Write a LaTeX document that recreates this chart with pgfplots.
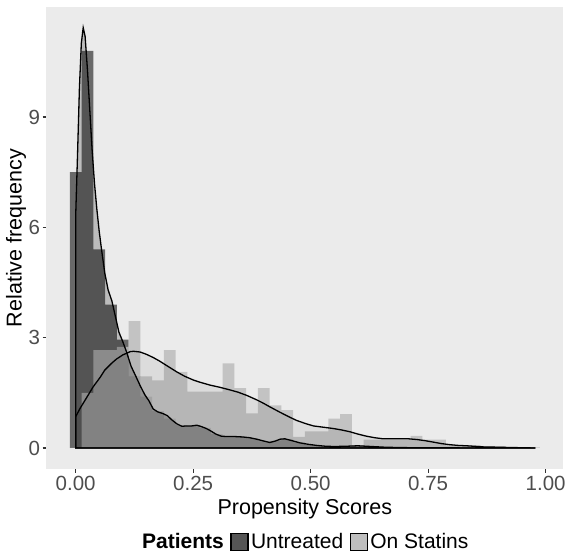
\documentclass[border=0pt]{standalone}
\usepackage{fontspec}
\setmainfont{Liberation Sans}
\usepackage{pgfplots}
\pgfplotsset{compat=1.18}

\definecolor{panelbg}{HTML}{EBEBEB}
\definecolor{ticktext}{HTML}{4D4D4D}
\definecolor{tickmark}{HTML}{333333}
\definecolor{untreatedfill}{HTML}{333333}
\definecolor{statinfill}{HTML}{BCBCBC}
\definecolor{keydark}{HTML}{555555}
\definecolor{keylight}{HTML}{BEBEBE}

% Histogram heights (density scale), bins of width 0.025; x = left edge
\pgfplotstableread{
x       y
-0.0125 7.50
0.0125  10.80
0.0375  5.40
0.0625  3.90
0.0875  2.95
0.1125  1.95
0.1375  1.40
0.1625  1.00
0.1875  0.80
0.2125  0.62
0.2375  0.60
0.2625  0.55
0.2875  0.38
0.3125  0.30
0.3375  0.30
0.3625  0.26
0.3875  0.18
0.4125  0.20
0.4375  0.25
0.4625  0.15
0.4875  0.08
0.5125  0.05
0.5375  0.04
0.5625  0.05
0.5875  0.05
0.6125  0.03
0.6375  0.02
0.6625  0.01
0.6875  0.01
0.7125  0.01
}\untreatedhist

\pgfplotstableread{
x       y
-0.0125 0.00
0.0125  1.50
0.0375  2.66
0.0625  2.66
0.0875  2.75
0.1125  3.45
0.1375  1.95
0.1625  1.84
0.1875  2.66
0.2125  2.07
0.2375  1.53
0.2625  1.53
0.2875  1.53
0.3125  2.30
0.3375  1.63
0.3625  0.94
0.3875  1.63
0.4125  1.16
0.4375  1.03
0.4625  0.30
0.4875  0.45
0.5125  0.45
0.5375  0.80
0.5625  0.92
0.5875  0.08
0.6125  0.23
0.6375  0.23
0.6625  0.23
0.6875  0.23
0.7125  0.33
0.7375  0.23
0.7625  0.23
0.7875  0.07
0.8125  0.07
0.8375  0.07
0.8625  0.05
0.8875  0.05
0.9125  0.00
0.9375  0.02
0.9625  0.02
0.9875  0.02
}\statinhist

% Kernel density estimates
\pgfplotstableread{
x     y
0.000 6.30
0.004 8.00
0.008 9.80
0.012 11.00
0.016 11.43
0.020 11.20
0.025 10.30
0.030 9.20
0.035 8.10
0.040 7.20
0.045 6.50
0.050 5.90
0.055 5.40
0.062 4.75
0.069 4.30
0.077 4.00
0.085 3.55
0.092 3.15
0.100 2.90
0.108 2.62
0.118 2.22
0.128 1.95
0.137 1.70
0.147 1.45
0.156 1.28
0.165 1.06
0.175 0.98
0.185 0.94
0.195 0.88
0.205 0.76
0.215 0.66
0.226 0.59
0.236 0.60
0.247 0.60
0.258 0.62
0.268 0.58
0.278 0.53
0.288 0.46
0.298 0.38
0.310 0.32
0.325 0.31
0.340 0.31
0.355 0.30
0.370 0.28
0.385 0.24
0.400 0.19
0.413 0.15
0.425 0.19
0.435 0.24
0.445 0.25
0.460 0.20
0.477 0.14
0.495 0.10
0.513 0.07
0.530 0.05
0.550 0.04
0.580 0.05
0.600 0.06
0.630 0.04
0.660 0.02
0.700 0.01
0.750 0.005
0.800 0.003
0.900 0.001
0.978 0.000
}\untreateddens

\pgfplotstableread{
x     y
0.000 0.85
0.009 1.07
0.020 1.30
0.037 1.66
0.052 1.92
0.062 2.12
0.077 2.31
0.087 2.42
0.100 2.53
0.116 2.62
0.123 2.63
0.137 2.61
0.150 2.55
0.165 2.46
0.179 2.36
0.195 2.23
0.215 2.07
0.232 1.95
0.250 1.85
0.264 1.79
0.286 1.71
0.307 1.65
0.328 1.58
0.345 1.52
0.364 1.43
0.385 1.31
0.399 1.22
0.413 1.12
0.435 0.97
0.455 0.84
0.470 0.75
0.490 0.66
0.506 0.60
0.530 0.56
0.548 0.53
0.566 0.49
0.584 0.44
0.600 0.38
0.619 0.32
0.636 0.28
0.654 0.25
0.672 0.25
0.690 0.25
0.708 0.25
0.726 0.23
0.743 0.20
0.761 0.16
0.778 0.12
0.796 0.09
0.814 0.07
0.832 0.06
0.850 0.045
0.867 0.03
0.885 0.025
0.903 0.02
0.920 0.015
0.938 0.01
0.958 0.005
0.978 0.000
}\statindens

\begin{document}
\begin{tikzpicture}[x=1bp,y=1bp]
\path[use as bounding box] (0,0) rectangle (569,552);
\begin{axis}[
  at={(46.3bp,83bp)}, anchor=south west,
  scale only axis, width=517bp, height=462.3bp,
  xmin=-0.0625, xmax=1.0375, ymin=-0.571, ymax=12.0,
  axis background/.style={fill=panelbg},
  axis line style={draw=none},
  xtick={0,0.25,0.5,0.75,1}, ytick={0,3,6,9},
  xticklabels={0.00,0.25,0.50,0.75,1.00},
  xtick pos=left, ytick pos=left,
  tick align=outside, major tick length=3.7bp,
  every tick/.style={tickmark, line width=1.1bp},
  /pgf/number format/assume math mode=true,
  xticklabel style={font=\fontsize{20.5bp}{24bp}\selectfont, text=ticktext},
  yticklabel style={font=\fontsize{20.5bp}{24bp}\selectfont, text=ticktext, inner xsep=2.5bp},
  legend style={at={(0.5,-0.158)}, anchor=center, draw=none, fill=none,
    font=\fontsize{21bp}{24bp}\selectfont, legend columns=3,
    /tikz/every even column/.append style={column sep=5bp},
    /tikz/every odd column/.append style={column sep=1bp},
    nodes={inner xsep=1.5bp}},
]
% histograms
\addplot[const plot, draw=none, fill=untreatedfill, fill opacity=0.70, forget plot]
  table[x=x, y=y] {\untreatedhist} \closedcycle;
\addplot[const plot, draw=none, fill=statinfill, fill opacity=0.84, forget plot]
  table[x=x, y=y] {\statinhist} \closedcycle;
% densities
\addplot[draw=black, line width=1.3bp, fill=black, fill opacity=0.20, forget plot]
  table[x=x, y=y] {\untreateddens} \closedcycle;
\addplot[draw=black, line width=1.3bp, fill=black, fill opacity=0.064, forget plot]
  table[x=x, y=y] {\statindens} \closedcycle;

\addlegendimage{empty legend}
\addlegendentry{\textbf{Patients}}
\addlegendimage{legend image code/.code={\draw[black, line width=1.1bp, fill=keydark] (0bp,-8.5bp) rectangle (17bp,8.5bp);}}
\addlegendentry{Untreated}
\addlegendimage{legend image code/.code={\draw[black, line width=1.1bp, fill=keylight] (0bp,-8.5bp) rectangle (17bp,8.5bp);}}
\addlegendentry{On Statins}
\end{axis}
\node[font=\fontsize{21.5bp}{24bp}\selectfont] at (304.8,43) {Propensity Scores};
\node[rotate=90, font=\fontsize{21.5bp}{24bp}\selectfont] at (16,314) {Relative frequency};
\end{tikzpicture}
\end{document}
